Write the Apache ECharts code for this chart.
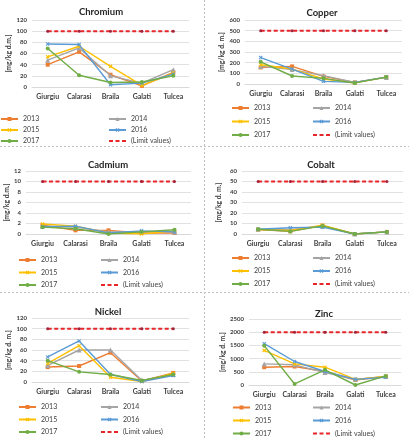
<!DOCTYPE html>
<html><head><meta charset="utf-8">
<script src="https://cdn.jsdelivr.net/npm/echarts@6/dist/echarts.min.js"></script>
<style>html,body{margin:0;padding:0;background:#fff}#c{width:409px;height:438px}</style>
</head><body><div id="c"></div>
<script>
const categories = ['Giurgiu','Calarasi','Braila','Galati','Tulcea'];
const years = ['2013','2014','2015','2016','2017'];
const limitName = '(Limit values)';
const metals = ['Chromium','Copper','Cadmium','Cobalt','Nickel','Zinc'];
const yNames = ['[mg/kg d.m.]','[mg/kg d. m.]','[mg/kg d.m.]','[mg/kg d. m.]','[mg/kg d. m.]','[mg/kg d. m.]'];
// rows: 2013..2017
const chromiumValues = [[40,63,22,2,26],[48,70,20,7,31],[54,73,37,3,25],[77,76,4,7,23],[69,21,8,9,20]];
const copperValues = [[155,165,71,15,65],[165,135,78,15,62],[180,140,47,10,65],[248,140,25,15,65],[208,75,53,10,65]];
const cadmiumValues = [[1.7,0.7,0.7,0.2,0.2],[1.5,1.3,0.4,0.4,0.4],[1.9,1.5,0.2,0,0.6],[1.4,1.5,0.2,0.6,0.4],[1.3,1.0,0,0.4,0.8]];
const cobaltValues = [[4.2,2.5,8,0,2],[4.5,4,7.5,0,2],[4.2,3.3,8.3,0,2],[4.5,6,6.5,0,2],[4.5,2.5,7.7,0,2]];
const nickelValues = [[28,30,55,2,17],[31,60,60,3,14],[35,68,9,1,16],[47,77,14,1,12],[40,19,14,3,14]];
const zincValues = [[675,700,510,190,320],[800,765,470,215,320],[1310,800,675,215,320],[1565,890,510,215,295],[1490,40,575,0,345]];
const limitValues = [100,500,10,50,100,2000];
const axisMax = [120,600,12,60,120,2500];
const axisStep = [20,100,2,10,20,500];

const allValues = [chromiumValues,copperValues,cadmiumValues,cobaltValues,nickelValues,zincValues];
const colors = ['#ED7D31','#A5A5A5','#FFC000','#5B9BD5','#70AD47'];
const xShape = 'path://M2,0L5,3L8,0L10,2L7,5L10,8L8,10L5,7L2,10L0,8L3,5L0,2Z';
const symbols = ['rect','triangle',xShape,xShape,'circle'];

// layout per panel
const L = [
 {gl:32,gw:157,gt:20,gh:67,tx:96,ty:2,nameGap:17,lx1:0,lx2:108,ly:115.5,lgap:11},
 {gl:245,gw:157,gt:20,gh:64,tx:317,ty:3,nameGap:19,lx1:231,lx2:312,ly:104.5,lgap:13.5},
 {gl:26,gw:165,gt:171,gh:63,tx:103,ty:155,nameGap:14,lx1:18,lx2:100,ly:256.5,lgap:12.5},
 {gl:242,gw:161,gt:171,gh:63,tx:316,ty:155,nameGap:20,lx1:231,lx2:312,ly:254.5,lgap:13},
 {gl:32,gw:157,gt:318,gh:64,tx:103,ty:302,nameGap:19,lx1:18,lx2:100,ly:403.5,lgap:12.5},
 {gl:249,gw:152,gt:319,gh:66,tx:319,ty:304,nameGap:23,lx1:232,lx2:312,ly:404,lgap:13}
];
const font = 'Lato, "Open Sans", sans-serif';
const grid=[],xAxis=[],yAxis=[],title=[],legend=[],series=[];
metals.forEach((m,i)=>{
  const p=L[i];
  grid.push({left:p.gl,top:p.gt,width:p.gw,height:p.gh,containLabel:false});
  title.push({text:m,left:p.tx,top:p.ty,textAlign:'center',textStyle:{fontFamily:font,fontSize:9.5,fontWeight:'bold',color:'#262626'}});
  xAxis.push({type:'category',gridIndex:i,data:categories,boundaryGap:true,
    axisLine:{lineStyle:{color:'#D9D9D9'}},axisTick:{show:false},
    axisLabel:{interval:0,fontFamily:font,fontSize:7,fontWeight:'bold',color:'#404040',margin:6}});
  yAxis.push({type:'value',gridIndex:i,min:0,max:axisMax[i],interval:axisStep[i],
    name:yNames[i],nameLocation:'middle',nameGap:p.nameGap,nameRotate:90,
    nameTextStyle:{fontFamily:font,fontSize:6.8,fontWeight:'bold',color:'#404040'},
    axisLine:{show:false},axisTick:{show:false},
    axisLabel:{formatter:v=>String(v),fontFamily:font,fontSize:6,fontWeight:'bold',color:'#404040',margin:5},
    splitLine:{lineStyle:{color:'#D9D9D9',width:0.8}}});
  const lh=5, th=7;
  const lg={orient:'vertical',top:p.ly,itemWidth:17,itemHeight:lh,itemGap:p.lgap-th,
    selectedMode:false,padding:0,textStyle:{fontFamily:font,fontSize:7,lineHeight:th,height:th,color:'#404040'}};
  legend.push(Object.assign({},lg,{left:p.lx1,data:['2013','2015','2017']}));
  legend.push(Object.assign({},lg,{left:p.lx2,data:['2014','2016',{name:limitName,itemStyle:{opacity:0}}]}));
  allValues[i].forEach((vals,k)=>{
    series.push({name:years[k],type:'line',xAxisIndex:i,yAxisIndex:i,data:vals,
      symbol:symbols[k],symbolSize:k===1?5:4,showSymbol:true,
      lineStyle:{color:colors[k],width:1.4},itemStyle:{color:colors[k]},z:3+k,animation:false});
  });
  series.push({name:limitName,type:'line',xAxisIndex:i,yAxisIndex:i,
    data:categories.map(()=>limitValues[i]),symbol:'circle',symbolSize:3,
    lineStyle:{color:'#E8262A',width:2,type:[4,2.5]},itemStyle:{color:'#A0243A'},z:10,animation:false});
});
const sep={type:'line',silent:true,style:{stroke:'#BFBFBF',lineWidth:1,lineDash:[2,2]}};
const chart=echarts.init(document.getElementById('c'),null,{renderer:'canvas'});
chart.setOption({animation:false,backgroundColor:'#fff',title,grid,xAxis,yAxis,legend,series,
  graphic:[
    Object.assign({},sep,{shape:{x1:204.5,y1:0,x2:204.5,y2:438}}),
    Object.assign({},sep,{shape:{x1:0,y1:146.5,x2:409,y2:146.5}}),
    Object.assign({},sep,{shape:{x1:0,y1:292.5,x2:409,y2:292.5}})
  ]});
</script></body></html>
